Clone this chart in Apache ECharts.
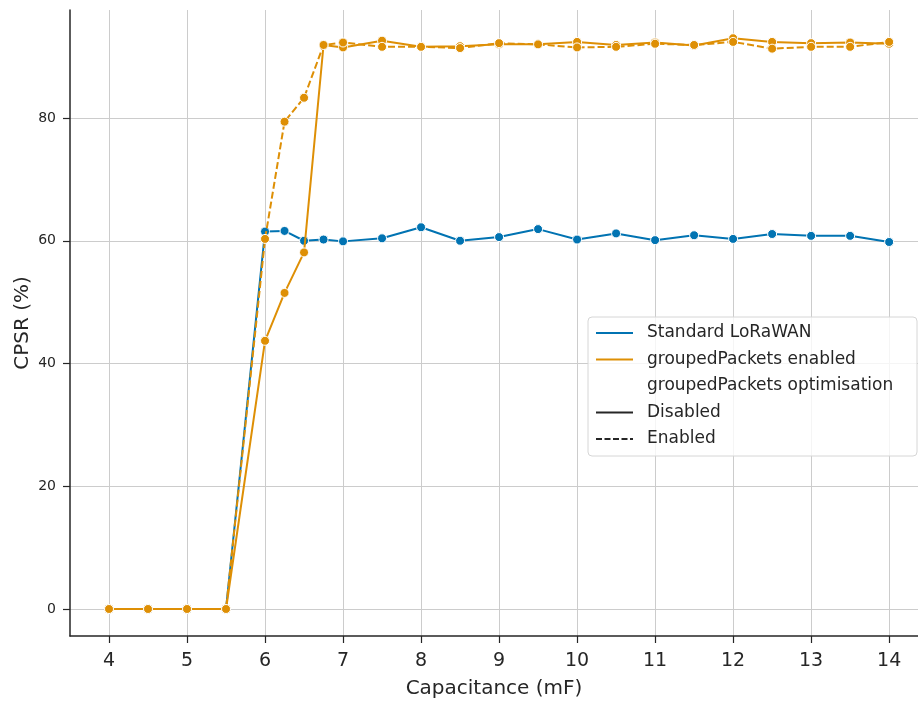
<!DOCTYPE html>
<html>
<head>
<meta charset="utf-8">
<script src="https://cdn.jsdelivr.net/npm/echarts@6/dist/echarts.min.js"></script>
<style>
html,body{margin:0;padding:0;background:#fff;}
#chart{width:918px;height:704px;}
</style>
</head>
<body>
<div id="chart"></div>
<script>
// Data
const capacitance = [4, 4.5, 5, 5.5, 6, 6.25, 6.5, 6.75, 7, 7.5, 8, 8.5, 9, 9.5, 10, 10.5, 11, 11.5, 12, 12.5, 13, 13.5, 14];
const standardLoRaWAN = [0, 0, 0, 0, 61.5, 61.6, 60.0, 60.2, 59.9, 60.4, 62.2, 60.0, 60.6, 61.9, 60.2, 61.2, 60.1, 60.9, 60.3, 61.1, 60.8, 60.8, 59.8];
const groupedDisabled = [0, 0, 0, 0, 43.7, 51.5, 58.1, 91.9, 91.5, 92.6, 91.6, 91.7, 92.0, 92.0, 92.4, 91.9, 92.3, 91.8, 93.0, 92.4, 92.2, 92.3, 92.1];
const groupedEnabled = [0, 0, 0, 0, 60.3, 79.4, 83.3, 91.9, 92.3, 91.6, 91.6, 91.4, 92.2, 92.0, 91.5, 91.6, 92.1, 91.9, 92.4, 91.3, 91.6, 91.6, 92.4];
const xTicks = [4, 5, 6, 7, 8, 9, 10, 11, 12, 13, 14];
const yTicks = [0, 20, 40, 60, 80];
const legendLabels = ['Standard LoRaWAN', 'groupedPackets enabled', 'groupedPackets optimisation', 'Disabled', 'Enabled'];

const BLUE = '#0173b2', ORANGE = '#de8f05', DARK = '#262626', GRIDC = '#cccccc';
const FONT = 'DejaVu Sans';

function pairs(vals){ return capacitance.map((x,i)=>[x, vals[i]]); }
function lineSeries(name, vals, color, dashed, z){
  return {
    type:'line', name, data: pairs(vals), z,
    symbol:'circle', symbolSize:9, showSymbol:true,
    lineStyle:{width:2, color, type: dashed ? [7,3] : 'solid'},
    itemStyle:{color, borderColor:'#ffffff', borderWidth:1},
    emphasis:{disabled:true}
  };
}

const chart = echarts.init(document.getElementById('chart'), null, {renderer:'canvas'});

const lgX = 588, lgY = 317, rowH = 26.5, row0 = 333;
const legendGraphics = [
  {type:'rect', shape:{x:lgX, y:lgY, width:329, height:139, r:4},
   style:{fill:'rgba(255,255,255,0.8)', stroke:'#d6d6d6', lineWidth:1}, z:100}
];
const handles = [
  {color:BLUE, dash:null},
  {color:ORANGE, dash:null},
  null,
  {color:DARK, dash:null},
  {color:DARK, dash:[6,2.5]}
];
legendLabels.forEach((lab, i) => {
  const cy = row0 + i*rowH;
  const h = handles[i];
  if (h) {
    legendGraphics.push({type:'line', shape:{x1:596, y1:cy, x2:633, y2:cy},
      style:{stroke:h.color, lineWidth:2, lineDash:h.dash}, z:101});
  }
  legendGraphics.push({type:'text', x:647, y:cy,
    style:{text:lab, fill:DARK, font:'17px "DejaVu Sans"', textVerticalAlign:'middle', textAlign:'left'}, z:101});
});

chart.setOption({
  animation:false,
  backgroundColor:'#ffffff',
  grid:{left:70, right:0, top:10, bottom:68, containLabel:false, outerBoundsMode:'none'},
  xAxis:{
    type:'value', min:3.5, max:14.37,
    name:'Capacitance (mF)', nameLocation:'middle', nameGap:43,
    nameTextStyle:{fontFamily:FONT, fontSize:20, color:DARK},
    axisLine:{show:true, onZero:false, lineStyle:{color:DARK, width:1.5}},
    axisTick:{show:true, customValues:xTicks, length:7, lineStyle:{color:DARK, width:1.2}},
    axisLabel:{customValues:xTicks, fontFamily:FONT, fontSize:19, color:DARK, margin:16},
    splitLine:{show:true, lineStyle:{color:GRIDC, width:1}}
  },
  yAxis:{
    type:'value', min:-4.4, max:97.6,
    name:'CPSR (%)', nameLocation:'middle', nameGap:37, nameRotate:90, nameMoveOverlap:false,
    nameTextStyle:{fontFamily:FONT, fontSize:20, color:DARK},
    axisLine:{show:true, onZero:false, lineStyle:{color:DARK, width:1.5}},
    axisTick:{show:true, customValues:yTicks, length:7, lineStyle:{color:DARK, width:1.2}},
    axisLabel:{customValues:yTicks, fontFamily:FONT, fontSize:14, color:DARK, margin:14},
    splitLine:{show:true, lineStyle:{color:GRIDC, width:1}}
  },
  series:[
    lineSeries('Standard LoRaWAN', standardLoRaWAN, BLUE, false, 2),
    lineSeries('groupedPackets enabled (Disabled)', groupedDisabled, ORANGE, false, 3),
    lineSeries('groupedPackets enabled (Enabled)', groupedEnabled, ORANGE, true, 4)
  ],
  graphic: legendGraphics
});
</script>
</body>
</html>
